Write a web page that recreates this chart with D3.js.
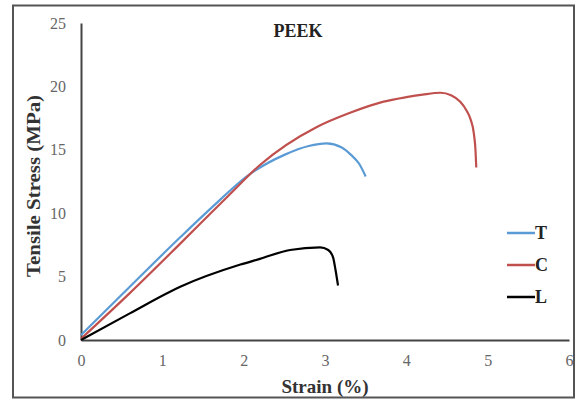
<!DOCTYPE html>
<html><head><meta charset="utf-8">
<script src="https://cdn.jsdelivr.net/npm/d3@7"></script>
<style>body{margin:0;background:#fff}svg{display:block}</style>
</head><body>
<script>
const xTicks = [0,1,2,3,4,5,6];
const yTicks = [0,5,10,15,20,25];
const seriesNames = ["T","C","L"];
const seriesColors = ["#5b9bd5","#c0504d","#000000"];
const strainT = [0,0.6,1.22,1.6,2.08,2.5,2.8,3.02,3.2,3.32,3.42,3.5];
const stressT = [0.4,4.2,8.1,10.4,13.1,14.6,15.3,15.5,15.2,14.6,13.9,12.9];
const strainC = [0,0.6,1.22,1.8,2.2,2.9,3.3,3.72,4.0,4.2,4.42,4.55,4.66,4.74,4.79,4.83,4.85,4.86];
const stressC = [0.1,3.7,7.6,11.3,13.8,16.8,17.9,18.8,19.15,19.35,19.5,19.3,18.8,18.1,17.4,16.3,15.0,13.6];
const strainL = [0,0.6,1.22,1.96,2.2,2.57,2.94,3.04,3.1,3.13,3.16];
const stressL = [0,2.1,4.2,5.95,6.4,7.1,7.3,7.1,6.5,5.5,4.3];

const W=577,H=400;
const svg=d3.select("body").append("svg").attr("width",W).attr("height",H);
svg.append("rect").attr("x",13).attr("y",5.5).attr("width",561).attr("height",392)
  .attr("fill","#fff").attr("stroke","#555").attr("stroke-width",2);

const x=d3.scaleLinear().domain([0,6]).range([81,569]);
const y=d3.scaleLinear().domain([0,25]).range([340,23]);
const font="'Liberation Serif','Times New Roman',serif";

const xa=svg.append("g").attr("transform","translate(0,340)")
  .call(d3.axisBottom(x).tickValues(xTicks).tickFormat(d3.format("d")).tickSize(0).tickPadding(15));
const ya=svg.append("g").attr("transform","translate(81,0)")
  .call(d3.axisLeft(y).tickValues(yTicks).tickFormat(d3.format("d")).tickSize(0).tickPadding(15));
[xa,ya].forEach(a=>{
  a.select(".domain").attr("stroke","#444").attr("stroke-width",2);
  a.selectAll("text").attr("font-family",font).attr("font-size",16).attr("fill","#666");
});

const data=[[strainT,stressT],[strainC,stressC],[strainL,stressL]];
const line=d3.line().x(d=>x(d[0])).y(d=>y(d[1])).curve(d3.curveMonotoneX);
data.forEach((s,i)=>{
  const pts=s[0].map((v,j)=>[v,s[1][j]]);
  svg.append("path").datum(pts).attr("d",line).attr("fill","none")
    .attr("stroke",seriesColors[i]).attr("stroke-width",2.2);
});

svg.append("text").attr("x",298).attr("y",37).attr("text-anchor","middle")
  .attr("font-family",font).attr("font-weight","bold").attr("font-size",18).attr("fill","#222").text("PEEK");
svg.append("text").attr("x",325).attr("y",393).attr("text-anchor","middle")
  .attr("font-family",font).attr("font-weight","bold").attr("font-size",19).attr("fill","#333").text("Strain (%)");
svg.append("text").attr("transform","translate(40,186) rotate(-90)").attr("text-anchor","middle")
  .attr("font-family",font).attr("font-weight","bold").attr("font-size",19)
  .attr("textLength",182).attr("lengthAdjust","spacingAndGlyphs").attr("fill","#333").text("Tensile Stress (MPa)");

const lg=svg.append("g");
seriesNames.forEach((n,i)=>{
  const yy=233+i*32;
  lg.append("line").attr("x1",507).attr("x2",535).attr("y1",yy).attr("y2",yy)
    .attr("stroke",seriesColors[i]).attr("stroke-width",2.5);
  lg.append("text").attr("x",535).attr("y",yy+6).attr("font-family",font)
    .attr("font-weight","bold").attr("font-size",18).attr("fill","#222").text(n);
});
</script>
</body></html>
